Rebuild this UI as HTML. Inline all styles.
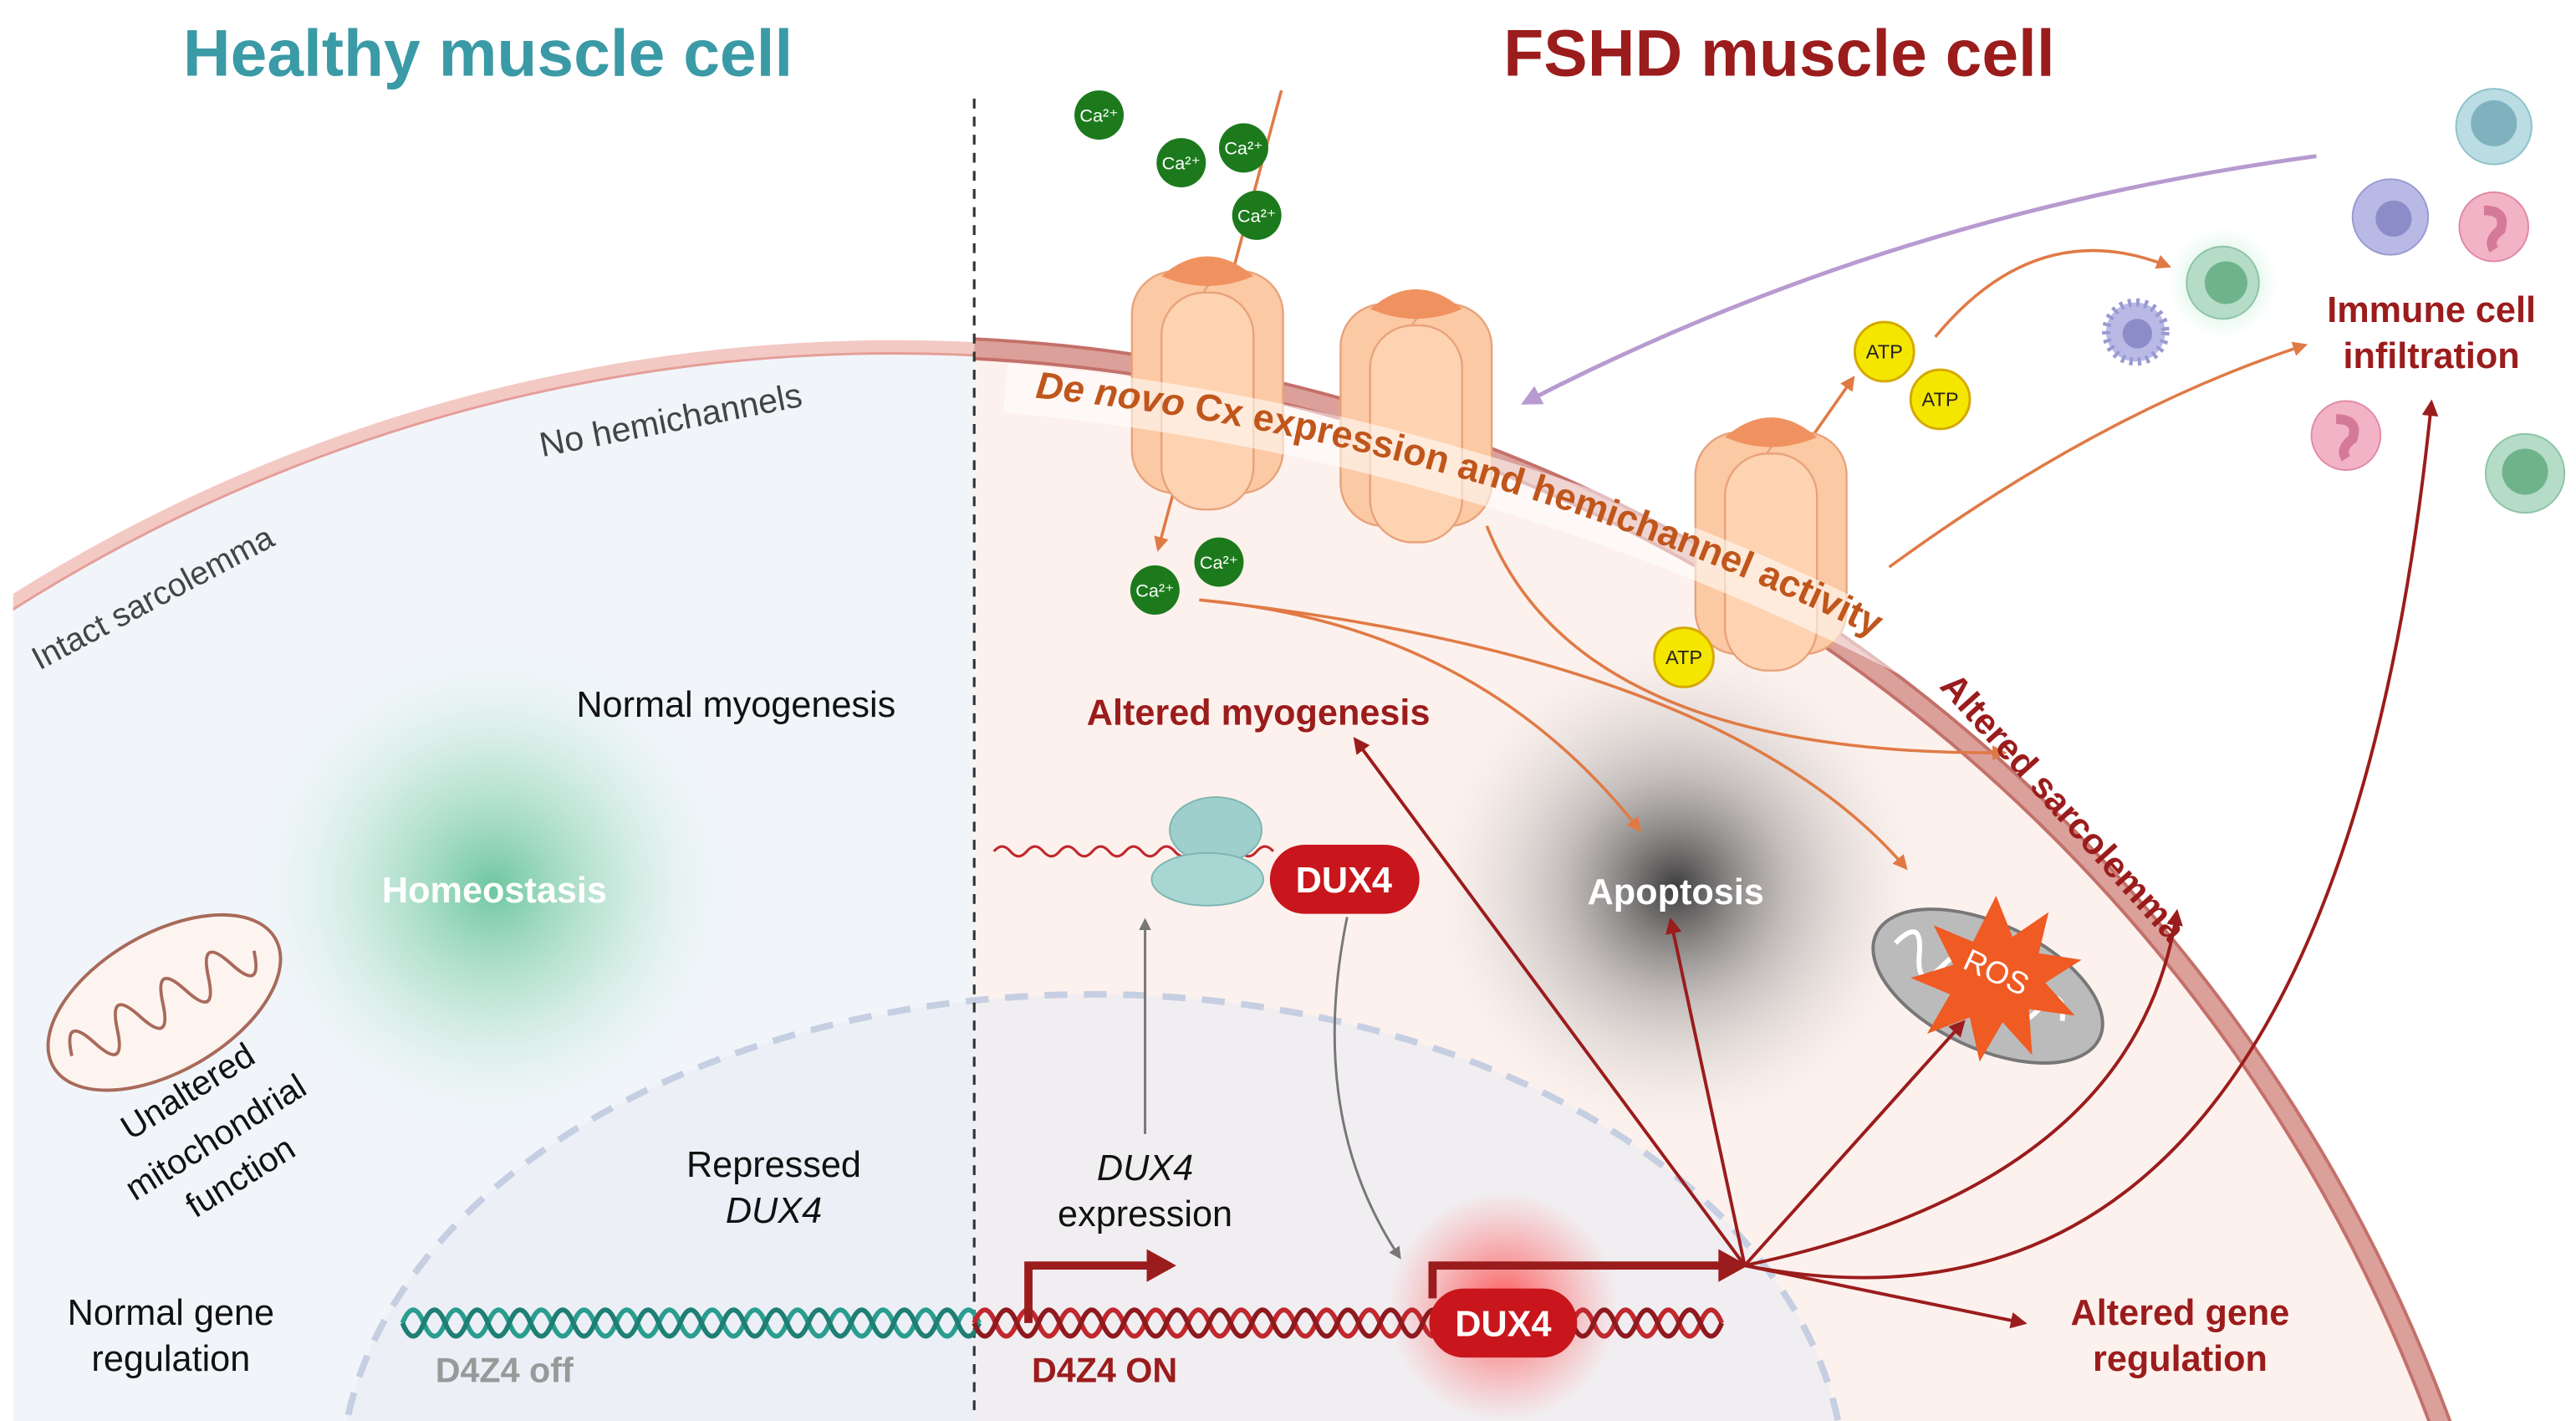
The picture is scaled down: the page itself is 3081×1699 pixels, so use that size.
<!DOCTYPE html>
<html><head><meta charset="utf-8"><style>
html,body{margin:0;padding:0;background:#fff;width:3081px;height:1699px;overflow:hidden;}
svg{display:block;}
text{font-family:"Liberation Sans",sans-serif;}
</style></head><body>
<svg width="3081" height="1699" viewBox="0 0 1568 864.6" preserveAspectRatio="none" xmlns="http://www.w3.org/2000/svg">
<defs>
<clipPath id="cell"><circle cx="544" cy="1215" r="1004"/></clipPath>
<clipPath id="left"><rect x="8" y="0" width="585" height="865"/></clipPath>
<clipPath id="right"><rect x="593" y="0" width="1000" height="865"/></clipPath>
<radialGradient id="gGreen"><stop offset="0" stop-color="#5fc196" stop-opacity="0.9"/><stop offset="0.5" stop-color="#9fdcbf" stop-opacity="0.5"/><stop offset="1" stop-color="#e6f5ee" stop-opacity="0"/></radialGradient>
<radialGradient id="gGray"><stop offset="0" stop-color="#333" stop-opacity="0.95"/><stop offset="0.45" stop-color="#888" stop-opacity="0.5"/><stop offset="1" stop-color="#ddd" stop-opacity="0"/></radialGradient>
<radialGradient id="gRed"><stop offset="0" stop-color="#ff3030" stop-opacity="0.8"/><stop offset="1" stop-color="#ff6060" stop-opacity="0"/></radialGradient>
<radialGradient id="gGlowG"><stop offset="0" stop-color="#7fd6a8" stop-opacity="0.7"/><stop offset="1" stop-color="#bfeed6" stop-opacity="0"/></radialGradient>
<marker id="aO" viewBox="0 0 10 10" refX="8" refY="5" markerWidth="5" markerHeight="5" orient="auto"><path d="M0,0 L10,5 L0,10 z" fill="#e07a45"/></marker>
<marker id="aR" viewBox="0 0 10 10" refX="8" refY="5" markerWidth="5" markerHeight="5" orient="auto"><path d="M0,0 L10,5 L0,10 z" fill="#9b1c1c"/></marker>
<marker id="aG" viewBox="0 0 10 10" refX="8" refY="5" markerWidth="5" markerHeight="5" orient="auto"><path d="M0,0 L10,5 L0,10 z" fill="#777"/></marker>
<marker id="aP" viewBox="0 0 10 10" refX="8" refY="5" markerWidth="5" markerHeight="5" orient="auto"><path d="M0,0 L10,5 L0,10 z" fill="#b79ad0"/></marker>
<g id="hemi">
 <rect x="-46" y="-45" width="52" height="135" rx="26" fill="#fbc9a4" stroke="#e8a27a" stroke-width="1.2"/>
 <rect x="-6" y="-45" width="52" height="135" rx="26" fill="#fbc9a4" stroke="#e8a27a" stroke-width="1.2"/>
 <rect x="-28" y="-32" width="56" height="132" rx="26" fill="#fdd3b2" stroke="#e8a27a" stroke-width="1.2"/>
 <path d="M-28,-42 Q0,-66 28,-42 Q0,-30 -28,-42z" fill="#f0925f"/>
</g>
</defs>

<g clip-path="url(#cell)">
 <rect x="8" y="0" width="585" height="865" fill="#f1f5fa"/>
 <rect x="593" y="0" width="1000" height="865" fill="#fcf1ed"/>
</g>
<ellipse cx="665" cy="905" rx="458" ry="300" fill="#e9edf3" fill-opacity="0.6" stroke="#c6cfe2" stroke-width="4" stroke-dasharray="14 10"/>

<circle cx="300" cy="540" r="150" fill="url(#gGreen)"/>
<circle cx="1020" cy="540" r="150" fill="url(#gGray)"/>
<circle cx="915" cy="795" r="70" fill="url(#gRed)"/>

<g clip-path="url(#left)" fill="none">
 <circle cx="544" cy="1215" r="1004" stroke="#f3c9c4" stroke-width="8"/>
 <circle cx="544" cy="1215" r="1000" stroke="#e59e98" stroke-width="1.5"/>
</g>
<g clip-path="url(#right)" fill="none">
 <circle cx="544" cy="1215" r="1004" stroke="#dba09a" stroke-width="12"/>
 <circle cx="544" cy="1215" r="998" stroke="#c4706a" stroke-width="2"/>
 <circle cx="544" cy="1215" r="1010" stroke="#c4706a" stroke-width="2"/>
</g>

<line x1="593" y1="60" x2="593" y2="858" stroke="#333" stroke-width="1.6" stroke-dasharray="6 5"/>

<text x="297" y="46" text-anchor="middle" font-size="40" font-weight="bold" fill="#3a9aa6">Healthy muscle cell</text>
<text x="1083" y="46" text-anchor="middle" font-size="40" font-weight="bold" fill="#9b1c1c">FSHD muscle cell</text>

<text x="330" y="278" font-size="21" fill="#444" transform="rotate(-11 330 278)">No hemichannels</text>
<text x="24" y="408" font-size="20" fill="#444" transform="rotate(-28 24 408)">Intact sarcolemma</text>
<text x="448" y="436" text-anchor="middle" font-size="22" fill="#111">Normal myogenesis</text>
<text x="301" y="549" text-anchor="middle" font-size="22" font-weight="bold" fill="#fff">Homeostasis</text>
<text x="471" y="716" text-anchor="middle" font-size="22" fill="#111">Repressed</text>
<text x="471" y="744" text-anchor="middle" font-size="22" font-style="italic" fill="#111">DUX4</text>
<text x="104" y="806" text-anchor="middle" font-size="22" fill="#111">Normal gene</text>
<text x="104" y="834" text-anchor="middle" font-size="22" fill="#111">regulation</text>

<g transform="rotate(-30 100 610)">
 <ellipse cx="100" cy="610" rx="78" ry="42" fill="#fdf4f0" stroke="#a86a5a" stroke-width="2"/>
 <path d="M35,610 q8,-25 16,0 q8,25 16,0 q8,-25 16,0 q8,25 16,0 q8,-25 16,0 q8,25 16,0 q8,-25 16,0 q8,25 16,0" fill="none" stroke="#a86a5a" stroke-width="2"/>
</g>
<g font-size="21" fill="#111" text-anchor="middle">
<text x="118" y="670" transform="rotate(-32 118 670)">Unaltered</text>
<text x="135" y="698" transform="rotate(-32 135 698)">mitochondrial</text>
<text x="150" y="722" transform="rotate(-32 150 722)">function</text>
</g>

<!-- DNA -->
<g fill="none" stroke-width="3">
 <path d="M245,805 q6.5,-16 13,0 t13,0 t13,0 t13,0 t13,0 t13,0 t13,0 t13,0 t13,0 t13,0 t13,0 t13,0 t13,0 t13,0 t13,0 t13,0 t13,0 t13,0 t13,0 t13,0 t13,0 t13,0 t13,0 t13,0 t13,0 t13,0 t13,0" stroke="#2a9d8f"/>
 <path d="M245,805 q6.5,16 13,0 t13,0 t13,0 t13,0 t13,0 t13,0 t13,0 t13,0 t13,0 t13,0 t13,0 t13,0 t13,0 t13,0 t13,0 t13,0 t13,0 t13,0 t13,0 t13,0 t13,0 t13,0 t13,0 t13,0 t13,0 t13,0 t13,0" stroke="#1f7f74"/>
 <path d="M593,805 q6.5,-16 13,0 t13,0 t13,0 t13,0 t13,0 t13,0 t13,0 t13,0 t13,0 t13,0 t13,0 t13,0 t13,0 t13,0 t13,0 t13,0 t13,0 t13,0 t13,0 t13,0 t13,0 t13,0 t13,0 t13,0 t13,0 t13,0 t13,0 t13,0 t13,0 t13,0 t13,0 t13,0 t13,0 t13,0 t13,0" stroke="#c0282d"/>
 <path d="M593,805 q6.5,16 13,0 t13,0 t13,0 t13,0 t13,0 t13,0 t13,0 t13,0 t13,0 t13,0 t13,0 t13,0 t13,0 t13,0 t13,0 t13,0 t13,0 t13,0 t13,0 t13,0 t13,0 t13,0 t13,0 t13,0 t13,0 t13,0 t13,0 t13,0 t13,0 t13,0 t13,0 t13,0 t13,0 t13,0 t13,0" stroke="#8e1a1f"/>
</g>
<text x="265" y="841" font-size="21" font-weight="bold" fill="#999">D4Z4 off</text>
<text x="628" y="841" font-size="21" font-weight="bold" fill="#9b1c1c">D4Z4 ON</text>

<path d="M626,805 V770 H700" fill="none" stroke="#9b1c1c" stroke-width="5"/>
<path d="M698,760 L716,770 L698,780z" fill="#9b1c1c"/>
<path d="M872,790 V770 H1048" fill="none" stroke="#9b1c1c" stroke-width="5"/>
<path d="M1046,760 L1064,770 L1046,780z" fill="#9b1c1c"/>

<text x="697" y="718" text-anchor="middle" font-size="22" font-style="italic" fill="#111">DUX4</text>
<text x="697" y="746" text-anchor="middle" font-size="22" fill="#111">expression</text>
<line x1="697" y1="690" x2="697" y2="560" stroke="#777" stroke-width="1.5" marker-end="url(#aG)"/>

<path d="M605,518 q5,-6 10,0 t10,0 t10,0 t10,0 t10,0 t10,0 t10,0 t10,0 t10,0 t10,0 t10,0 t10,0 t10,0 t10,0 t10,0 t10,0 t10,0" fill="none" stroke="#c0282d" stroke-width="1.6"/>
<ellipse cx="740" cy="505" rx="28" ry="20" fill="#9fcfcc" stroke="#7fb5b2"/>
<ellipse cx="735" cy="535" rx="34" ry="16" fill="#a8d6d3" stroke="#7fb5b2"/>
<rect x="773" y="514" width="91" height="42" rx="21" fill="#c8161c"/>
<text x="818" y="543" text-anchor="middle" font-size="22" font-weight="bold" fill="#fff">DUX4</text>
<path d="M820,558 Q795,680 852,765" fill="none" stroke="#777" stroke-width="1.5" marker-end="url(#aG)"/>
<rect x="870" y="784" width="90" height="42" rx="21" fill="#c8161c"/>
<text x="915" y="813" text-anchor="middle" font-size="22" font-weight="bold" fill="#fff">DUX4</text>

<text x="1020" y="550" text-anchor="middle" font-size="22" font-weight="bold" fill="#fff">Apoptosis</text>

<g transform="rotate(25 1210 600)">
 <ellipse cx="1210" cy="600" rx="75" ry="38" fill="#bbb" stroke="#777" stroke-width="2"/>
 <path d="M1148,600 q8,-22 16,0 q8,22 16,0 q8,-22 16,0 q8,22 16,0 q8,-22 16,0 q8,22 16,0 q8,-22 16,0" fill="none" stroke="#fff" stroke-width="3"/>
</g>
<path d="M1215,545 l10,25 22,-15 -6,25 26,4 -22,14 18,20 -28,-4 2,28 -18,-20 -14,24 -6,-27 -26,10 14,-24 -24,-10 26,-8 -12,-24 24,10z" fill="#f05a23"/>
<text x="1215" y="598" text-anchor="middle" font-size="19" fill="#fff" transform="rotate(25 1215 592)">ROS</text>

<g stroke="#9b1c1c" stroke-width="2" fill="none" marker-end="url(#aR)">
 <line x1="1062" y1="770" x2="825" y2="450"/>
 <line x1="1062" y1="770" x2="1017" y2="560"/>
 <line x1="1062" y1="770" x2="1195" y2="622"/>
 <path d="M1062,770 Q1300,720 1325,555"/>
 <path d="M1062,770 Q1420,840 1480,245"/>
 <line x1="1062" y1="770" x2="1232" y2="805"/>
</g>

<g stroke="#e07a45" stroke-width="1.8" fill="none" marker-end="url(#aO)">
 <path d="M730,365 Q900,380 998,505"/>
 <path d="M730,365 Q1050,400 1160,528"/>
 <path d="M905,320 Q960,460 1220,458"/>
 <line x1="780" y1="55" x2="705" y2="334"/>
 <line x1="1100" y1="270" x2="1128" y2="230"/>
 <path d="M1178,205 Q1240,130 1320,162"/>
 <path d="M1150,345 Q1280,250 1403,210"/>
</g>
<path d="M1410,95 Q1150,130 928,245" fill="none" stroke="#b79ad0" stroke-width="2.5" marker-end="url(#aP)"/>

<use href="#hemi" x="735" y="210"/>
<use href="#hemi" x="862" y="230"/>
<use href="#hemi" x="1078" y="308"/>

<path id="bandP" d="M630,242 Q900,268 1150,392" fill="none"/>
<path d="M612,236 Q900,262 1165,398" fill="none" stroke="#fff" stroke-opacity="0.55" stroke-width="30"/>
<text font-size="23" font-weight="bold" fill="#c0561c"><textPath href="#bandP"><tspan font-style="italic">De novo</tspan> Cx expression and hemichannel activity</textPath></text>
<text x="1180" y="418" font-size="22" font-weight="bold" fill="#9b1c1c" transform="rotate(48 1180 418)">Altered sarcolemma</text>

<g font-size="11" fill="#fff" text-anchor="middle">
 <circle cx="669" cy="70" r="15" fill="#1c7a1c"/><text x="669" y="74">Ca²⁺</text>
 <circle cx="719" cy="99" r="15" fill="#1c7a1c"/><text x="719" y="103">Ca²⁺</text>
 <circle cx="757" cy="90" r="15" fill="#1c7a1c"/><text x="757" y="94">Ca²⁺</text>
 <circle cx="765" cy="131" r="15" fill="#1c7a1c"/><text x="765" y="135">Ca²⁺</text>
 <circle cx="742" cy="342" r="15" fill="#1c7a1c"/><text x="742" y="346">Ca²⁺</text>
 <circle cx="703" cy="359" r="15" fill="#1c7a1c"/><text x="703" y="363">Ca²⁺</text>
</g>
<g font-size="12" fill="#222" text-anchor="middle">
 <circle cx="1147" cy="214" r="18" fill="#f5e600" stroke="#d4a900" stroke-width="1.5"/><text x="1147" y="218">ATP</text>
 <circle cx="1181" cy="243" r="18" fill="#f5e600" stroke="#d4a900" stroke-width="1.5"/><text x="1181" y="247">ATP</text>
 <circle cx="1025" cy="400" r="18" fill="#f5e600" stroke="#d4a900" stroke-width="1.5"/><text x="1025" y="404">ATP</text>
</g>

<text x="766" y="441" text-anchor="middle" font-size="22" font-weight="bold" fill="#9b1c1c">Altered myogenesis</text>
<text x="1327" y="806" text-anchor="middle" font-size="22" font-weight="bold" fill="#9b1c1c">Altered gene</text>
<text x="1327" y="834" text-anchor="middle" font-size="22" font-weight="bold" fill="#9b1c1c">regulation</text>
<text x="1480" y="196" text-anchor="middle" font-size="22" font-weight="bold" fill="#9b1c1c">Immune cell</text>
<text x="1480" y="224" text-anchor="middle" font-size="22" font-weight="bold" fill="#9b1c1c">infiltration</text>

<circle cx="1518" cy="77" r="23" fill="#b9dde2" stroke="#8fc2c9"/><circle cx="1518" cy="75" r="14" fill="#7fb2be"/>
<circle cx="1455" cy="132" r="23" fill="#b9b9e6" stroke="#9a9ad2"/><circle cx="1457" cy="133" r="11" fill="#8c8cc8"/>
<circle cx="1518" cy="138" r="21" fill="#f3b3c6" stroke="#e08aa5"/><path d="M1512,128 q14,0 10,12 q-8,6 -4,12" fill="none" stroke="#d47a98" stroke-width="6"/>
<circle cx="1428" cy="265" r="21" fill="#f3b3c6" stroke="#e08aa5"/><path d="M1422,255 q14,0 10,12 q-8,6 -4,12" fill="none" stroke="#d47a98" stroke-width="6"/>
<circle cx="1537" cy="288" r="24" fill="#b5dcc6" stroke="#8fc4a6"/><circle cx="1537" cy="287" r="14" fill="#6fb38c"/>
<circle cx="1353" cy="172" r="34" fill="url(#gGlowG)"/>
<circle cx="1353" cy="172" r="22" fill="#b5dcc6" stroke="#8fc4a6"/><circle cx="1355" cy="172" r="13" fill="#6fb38c"/>
<circle cx="1300" cy="202" r="18" fill="#b9b9e6" stroke="#9a9ad2" stroke-width="5" stroke-dasharray="2 3"/><circle cx="1301" cy="203" r="9" fill="#8c8cc8"/>
</svg>
</body></html>
